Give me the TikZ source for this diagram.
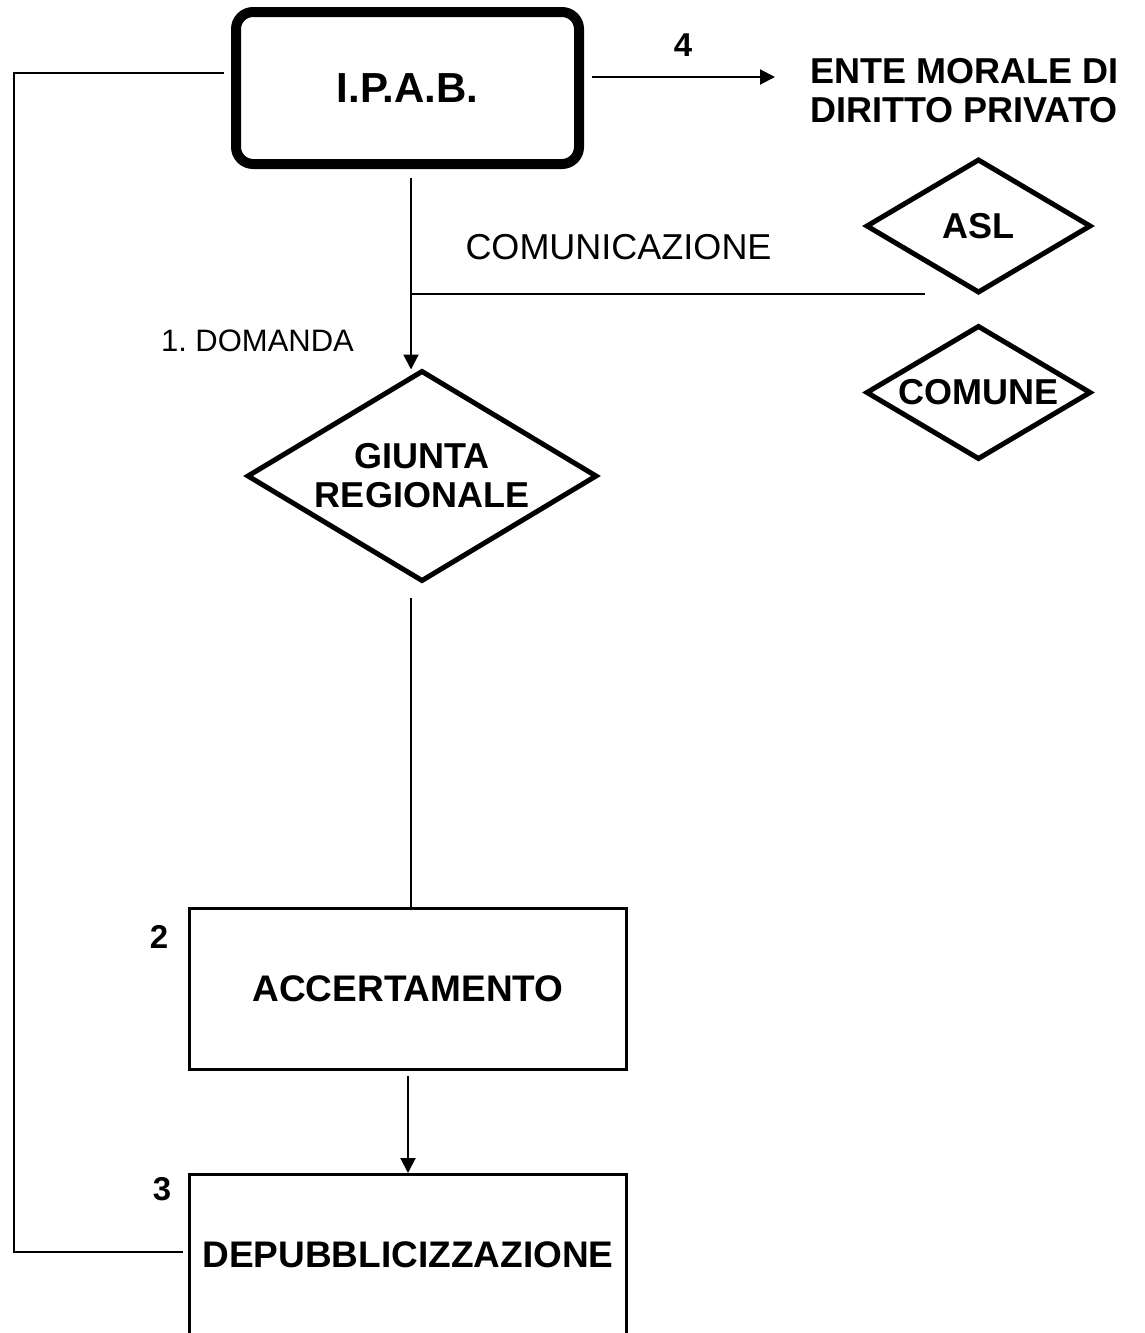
\documentclass[tikz,border=0pt]{standalone}
\usepackage{fontspec}
\setmainfont{Liberation Sans}
\usetikzlibrary{shapes.geometric,arrows.meta,calc}
\frenchspacing
\begin{document}
\begin{tikzpicture}[x=1pt,y=-1pt,
  conn/.style={line width=2pt},
  tip/.style={-{Triangle[length=15pt,width=15pt]}},
  dia/.style={draw,shape=diamond,line width=5pt,inner sep=0pt,outer sep=0pt,
    font=\bfseries\fontsize{36}{39}\selectfont,align=center},
  box/.style={draw,line width=3pt,inner sep=0pt,minimum width=437pt,
    font=\bfseries\fontsize{37}{40}\selectfont},
  lbl/.style={inner sep=0pt},
  numlbl/.style={inner sep=0pt,font=\bfseries\fontsize{33}{36}\selectfont},
]
\useasboundingbox (0,0) rectangle (1145,1333);

% I.P.A.B.
\node[draw,line width=10pt,rounded corners=17pt,minimum width=343pt,minimum height=152pt,
  inner sep=0pt,font=\bfseries\fontsize{42}{46}\selectfont] (ipab) at (407.5,88) {I.P.A.B.};

% Ente morale
\node[lbl,font=\bfseries\fontsize{36}{39}\selectfont,align=left,anchor=west] (ente) at (810,91)
  {ENTE MORALE DI\\DIRITTO PRIVATO};
\node[numlbl] (n4) at (683,45) {4};
\coordinate (a4) at (775,77);
\draw[conn,tip] ([xshift=7.5pt,yshift=11pt]ipab.east) -- (a4);

% ASL, COMUNE
\node[dia,minimum width=223pt,minimum height=132pt,aspect=1.69] (asl) at (978.5,226) {ASL};
\node[dia,minimum width=223pt,minimum height=132pt,aspect=1.69] (comune) at (978.5,392.5) {COMUNE};

% Giunta regionale
\node[dia,minimum width=348pt,minimum height=209pt,aspect=1.665] (giunta) at (422,476) {GIUNTA\\REGIONALE};

% labels
\node[lbl,font=\fontsize{36}{39}\selectfont] (comm) at (618.5,247) {COMUNICAZIONE};
\node[lbl,font=\fontsize{31}{34}\selectfont] (dom) at (257.5,340.5) {1. DOMANDA};

% IPAB -> Giunta
\draw[conn,tip] ([xshift=3.5pt,yshift=-8.5pt]ipab.south) -- ([xshift=3.5pt,yshift=2pt]ipab.south |- giunta.north);

% comunicazione line
\coordinate (c1) at (411,294);
\coordinate (c2) at (925,294);
\draw[conn] (c1) -- (c2);

% Accertamento
\node[box,minimum height=161pt] (acc) at (408,989) {ACCERTAMENTO};
\node[numlbl] (n2) at (159,937) {2};

% Depubblicizzazione
\node[box,minimum height=200pt,text height=26.5pt,text depth=40pt,anchor=north] (dep) at (408,1173) {DEPUBBLICIZZAZIONE};
\node[numlbl] (n3) at (162,1189) {3};

% Giunta -> Accertamento
\draw[conn] ([xshift=-11pt,yshift=-17pt]giunta.south) -- ([xshift=-11pt]giunta.south |- acc.north);

% Accertamento -> Depubblicizzazione
\draw[conn,tip] ([yshift=-5pt]acc.south) -- (dep.north);

% loop IPAB - Depubblicizzazione
\coordinate (l1) at (14,73);
\coordinate (l2) at (14,1252);
\draw[conn] ([xshift=-7.5pt,yshift=15pt]ipab.west) -- (l1) -- (l2) -- ([xshift=-5pt]dep.west |- l2);
\end{tikzpicture}
\end{document}
